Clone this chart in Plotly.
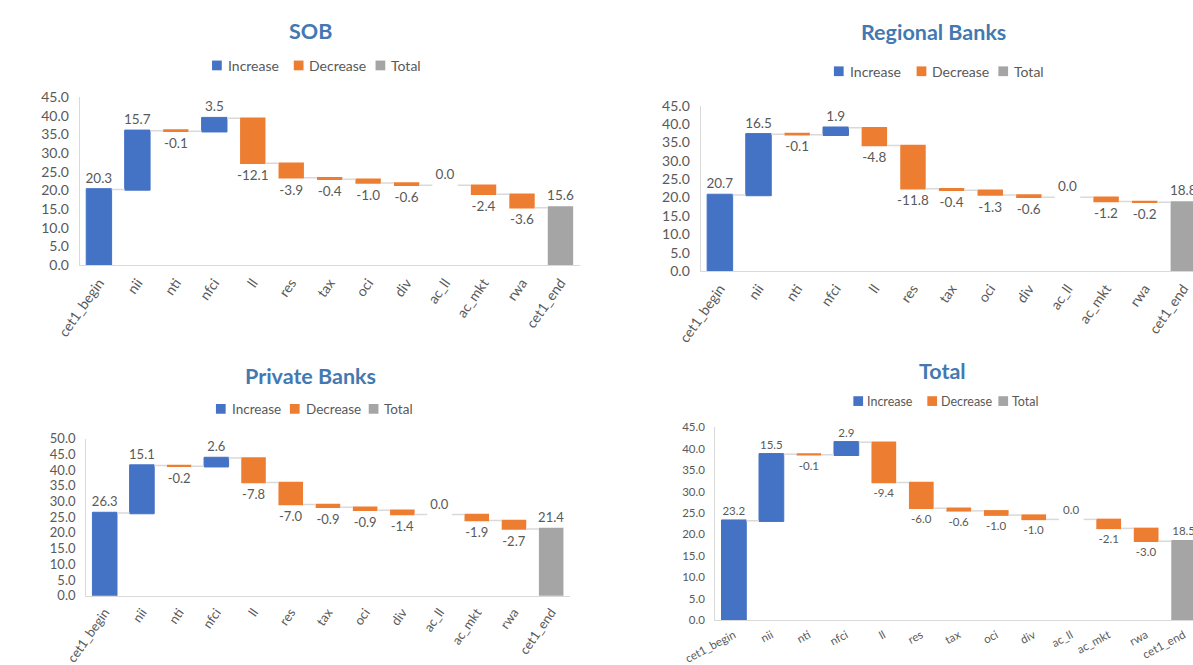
import plotly.graph_objects as go

# ---- data -------------------------------------------------------------
categories = ["cet1_begin", "nii", "nti", "nfci", "ll", "res", "tax",
              "oci", "div", "ac_ll", "ac_mkt", "rwa", "cet1_end"]

sob_values = [20.3, 15.7, -0.1, 3.5, -12.1, -3.9, -0.4, -1.0, -0.6, 0.0, -2.4, -3.6, 15.6]
regional_values = [20.7, 16.5, -0.1, 1.9, -4.8, -11.8, -0.4, -1.3, -0.6, 0.0, -1.2, -0.2, 18.8]
private_values = [26.3, 15.1, -0.2, 2.6, -7.8, -7.0, -0.9, -0.9, -1.4, 0.0, -1.9, -2.7, 21.4]
total_values = [23.2, 15.5, -0.1, 2.9, -9.4, -6.0, -0.6, -1.0, -1.0, 0.0, -2.1, -3.0, 18.5]

panel_titles = ["SOB", "Regional Banks", "Private Banks", "Total"]
legend_labels = ["Increase", "Decrease", "Total"]

# ---- style ------------------------------------------------------------
W, H = 1193, 665
BLUE, ORANGE, GREY = "#4472C4", "#ED7D31", "#A5A5A5"
TEXT = "#595959"
TITLE = "#4379B0"
AXIS = "#D9D9D9"
FONT = "Lato"


def fx(px):
    return px / W


def fy(py):
    return 1 - py / H


# pixel layout of each panel
panels = [
    dict(values=sob_values, title=panel_titles[0],
         xpx=(49, 562.8), ypx=(90.7, 263.3), xr=[-0.5, 12.5], ymax=45,
         angle=-55, tick=14, lab=13.5, title_at=(286, 22.5),
         legend_sq=[185, 269, 353], legend_y=58, legend_font=14, legend_gap=14),
    dict(values=regional_values, title=panel_titles[1],
         xpx=(687, 1193), ypx=(99.4, 269.3), xr=[-0.5, 12.25], ymax=45,
         angle=-55, tick=14, lab=13.5, title_at=(926, 24),
         legend_sq=[824, 909, 993], legend_y=64, legend_font=14, legend_gap=14),
    dict(values=private_values, title=panel_titles[2],
         xpx=(55.6, 552.6), ypx=(441.5, 603), xr=[-0.5, 12.5], ymax=50,
         angle=-55, tick=13, lab=13, title_at=(286, 377.5),
         legend_sq=[189, 265, 346], legend_y=411, legend_font=13.5, legend_gap=14),
    dict(values=total_values, title=panel_titles[3],
         xpx=(702, 1193), ypx=(430, 628), xr=[-0.5, 12.25], ymax=45,
         angle=-28, tick=11.5, lab=11.5, title_at=(936, 372),
         legend_sq=[844, 920, 993], legend_y=403, legend_font=12.5, legend_gap=12),
]

fig = go.Figure()
layout = dict(
    width=W, height=H,
    margin=dict(l=0, r=0, t=0, b=0, pad=0),
    paper_bgcolor="white", plot_bgcolor="white",
    showlegend=False,
    waterfallgap=0.34,
    font=dict(family=FONT, color=TEXT),
    annotations=[], shapes=[],
)

measures = ["relative"] * (len(categories) - 1) + ["absolute"]

for i, p in enumerate(panels, start=1):
    sfx = "" if i == 1 else str(i)
    fig.add_trace(go.Waterfall(
        x=categories,
        y=p["values"],
        measure=measures,
        text=[f"{v:.1f}" for v in p["values"]],
        textposition="outside",
        constraintext="none",
        cliponaxis=False,
        outsidetextfont=dict(family=FONT, size=p["lab"], color=TEXT),
        increasing=dict(marker=dict(color=BLUE, line=dict(color=BLUE, width=1))),
        decreasing=dict(marker=dict(color=ORANGE, line=dict(color=ORANGE, width=0))),
        totals=dict(marker=dict(color=GREY, line=dict(color=GREY, width=0))),
        connector=dict(mode="between", line=dict(color=AXIS, width=1.5)),
        xaxis="x" + sfx, yaxis="y" + sfx,
        hoverinfo="skip",
    ))

    layout["xaxis" + sfx] = dict(
        domain=[fx(p["xpx"][0]), min(1.0, fx(p["xpx"][1]))],
        anchor="y" + sfx,
        type="category", range=p["xr"],
        showline=True, linecolor=AXIS, linewidth=1,
        showgrid=False, zeroline=False, ticks="",
        tickangle=p["angle"], ticklabelstandoff=3,
        tickfont=dict(family=FONT, size=p["tick"], color=TEXT),
    )
    layout["yaxis" + sfx] = dict(
        domain=[fy(p["ypx"][1]), fy(p["ypx"][0])],
        anchor="x" + sfx,
        range=[0, p["ymax"]], dtick=5, tickformat=".1f",
        showline=True, linecolor=AXIS, linewidth=1,
        showgrid=False, zeroline=False, ticks="",
        ticklabelstandoff=7,
        tickfont=dict(family=FONT, size=p["tick"], color=TEXT),
    )

    # panel title
    layout["annotations"].append(dict(
        text=f"<b>{p['title']}</b>", xref="paper", yref="paper",
        x=fx(p["title_at"][0]), y=fy(p["title_at"][1]),
        xanchor="center", yanchor="middle", showarrow=False,
        font=dict(family=FONT, size=21.5, color=TITLE),
    ))

    # legend: coloured square + label
    for sq, lab, col in zip(p["legend_sq"], legend_labels, [BLUE, ORANGE, GREY]):
        yc = p["legend_y"]
        layout["shapes"].append(dict(
            type="rect", xref="paper", yref="paper",
            x0=fx(sq), x1=fx(sq + 10), y0=fy(yc + 5), y1=fy(yc - 5),
            fillcolor=col, line=dict(width=0),
        ))
        layout["annotations"].append(dict(
            text=lab, xref="paper", yref="paper",
            x=fx(sq + p["legend_gap"]), y=fy(yc), xanchor="left", yanchor="middle",
            showarrow=False,
            font=dict(family=FONT, size=p["legend_font"], color=TEXT),
        ))

fig.update_layout(**layout)
fig.write_html("out.html")
